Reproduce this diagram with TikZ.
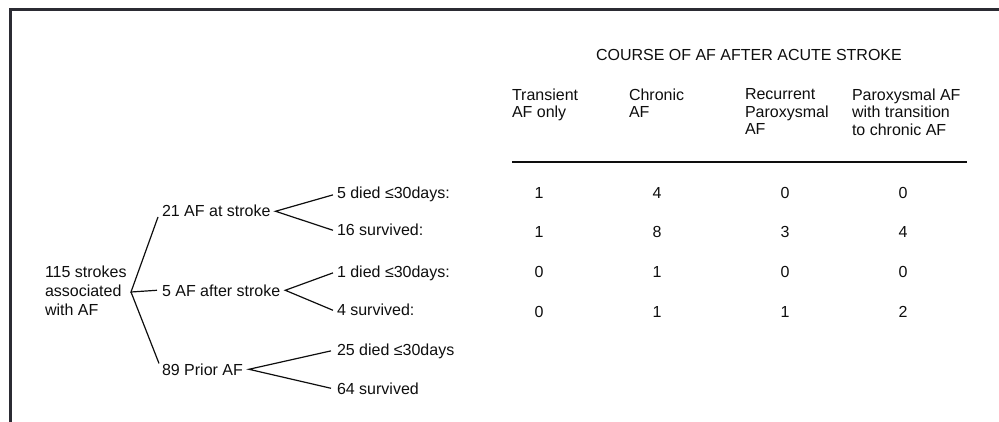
\documentclass[tikz,border=0pt]{standalone}
\usepackage{fontspec}
\setmainfont{Liberation Sans}
\definecolor{framegray}{HTML}{2B2B33}
\definecolor{inkc}{HTML}{0E0E0E}
\begin{document}
\begin{tikzpicture}[x=1pt,y=-1pt,
  txt/.style={inner sep=0pt, outer sep=0pt, text=inkc, font=\fontsize{16}{19}\selectfont},
  hdr/.style={txt, align=left, anchor=north west, font=\fontsize{16}{17.5}\selectfont},
  num/.style={txt, anchor=base},
  leaf/.style={txt, anchor=base west},
  conn/.style={draw=inkc, line width=1.2pt}]
\useasboundingbox (0,0) rectangle (999,422);
% frame
\draw[framegray, line width=3pt, line join=miter] (10,422) -- (10,10) -- (999,10);

% table header
\node[txt, anchor=base west] (title) at (596,61) {COURSE OF AF AFTER ACUTE STROKE};
\node[hdr] (h1) at (512,88.5) {Transient\\AF only};
\node[hdr] (h2) at (629,88.5) {Chronic\\AF};
\node[hdr] (h3) at (745,88.5) {Recurrent\\Paroxysmal\\AF};
\node[hdr] (h4) at (852,88.5) {Paroxysmal AF\\with transition\\to chronic AF};
\coordinate (ruleL) at (512,162);
\coordinate (ruleR) at (967,162);
\draw[conn] (ruleL) -- (ruleR);

% numbers
\node[num] (r1c1) at (539,199) {1};
\node[num] (r1c2) at (657,199) {4};
\node[num] (r1c3) at (785,199) {0};
\node[num] (r1c4) at (903,199) {0};
\node[num] (r2c1) at (539,238) {1};
\node[num] (r2c2) at (657,238) {8};
\node[num] (r2c3) at (785,238) {3};
\node[num] (r2c4) at (903,238) {4};
\node[num] (r3c1) at (539,277) {0};
\node[num] (r3c2) at (657,277) {1};
\node[num] (r3c3) at (785,277) {0};
\node[num] (r3c4) at (903,277) {0};
\node[num] (r4c1) at (539,317) {0};
\node[num] (r4c2) at (657,317) {1};
\node[num] (r4c3) at (785,317) {1};
\node[num] (r4c4) at (903,317) {2};

% tree
\node[txt, align=left, anchor=north west] (root) at (45,265.5) {115 strokes\\associated\\with AF};
\coordinate (rootj) at (131,292);
\node[leaf] (a21) at (162,217) {21 AF at stroke};
\node[leaf] (a5) at (162,296) {5 AF after stroke};
\node[leaf] (a89) at (162,375) {89 Prior AF};

\node[leaf] (l1) at (337,199) {5 died ≤30days:};
\node[leaf] (l2) at (337,236) {16 survived:};
\node[leaf] (l3) at (337,277) {1 died ≤30days:};
\node[leaf] (l4) at (337,316) {4 survived:};
\node[leaf] (l5) at (337,355) {25 died ≤30days};
\node[leaf] (l6) at (337,394) {64 survived};

\draw[conn] ([xshift=-4pt]a21.base west) -- (rootj) -- ([xshift=-5pt]a5.west);
\draw[conn] (rootj) -- ([xshift=-3pt]a89.north west);

\draw[conn] ([xshift=-4pt]l1.west) -- ([xshift=5pt]a21.east) -- ([xshift=-4pt]l2.west);
\draw[conn] ([xshift=-4pt]l3.west) -- ([xshift=5pt]a5.east) -- ([xshift=-4pt]l4.west);
\draw[conn] ([xshift=-6pt]l5.west) -- ([xshift=6pt]a89.east) -- ([xshift=-6pt]l6.west);
\end{tikzpicture}
\end{document}
